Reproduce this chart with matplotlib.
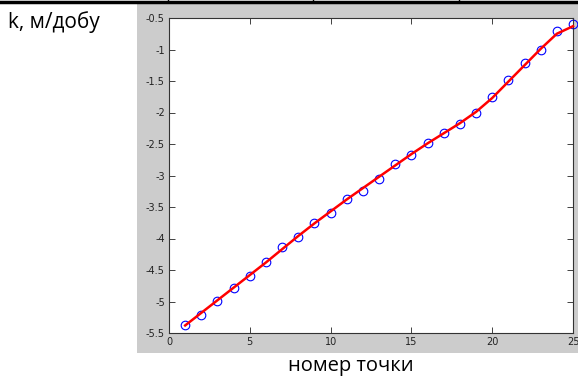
import matplotlib.pyplot as plt
from matplotlib.lines import Line2D

# point numbers and measured values
point_no = list(range(1, 26))
k_values = [-5.37, -5.21, -4.99, -4.78, -4.60, -4.38, -4.13, -3.97, -3.75, -3.60,
            -3.38, -3.24, -3.06, -2.81, -2.68, -2.49, -2.33, -2.18, -2.01, -1.76,
            -1.48, -1.22, -1.01, -0.70, -0.60]
# smoothed curve (red)
k_smooth = [-5.38, -5.18, -4.98, -4.78, -4.58, -4.38, -4.17, -3.96, -3.76, -3.57,
            -3.38, -3.20, -3.02, -2.84, -2.66, -2.49, -2.33, -2.17, -1.99, -1.77,
            -1.51, -1.25, -0.99, -0.75, -0.63]

xticks = [0, 5, 10, 15, 20, 25]
yticks = [-5.5, -5, -4.5, -4, -3.5, -3, -2.5, -2, -1.5, -1, -0.5]

W, H = 578, 377
fig = plt.figure(figsize=(W / 100, H / 100), dpi=100)

# gray matlab-style background
bg = fig.add_axes([137 / W, 1 - 353 / H, (578 - 137) / W, (353 - 4) / H])
bg.set_facecolor('#cccccc')
bg.set_xticks([])
bg.set_yticks([])
for s in bg.spines.values():
    s.set_visible(False)

# document table border at top
fig.lines.append(Line2D([0, 1], [1 - 2 / H, 1 - 2 / H], transform=fig.transFigure,
                        color='black', linewidth=2.5))
for cx in [168, 313, 459]:
    fig.lines.append(Line2D([cx / W, cx / W], [1, 1 - 2 / H], transform=fig.transFigure,
                            color='black', linewidth=1))

ax = fig.add_axes([169 / W, 1 - 333 / H, (573 - 169) / W, (333 - 18) / H])
ax.set_facecolor('white')

ax.plot(point_no, k_values, 'o', markerfacecolor='none', markeredgecolor='blue',
        markersize=6.2, markeredgewidth=0.8, clip_on=False, zorder=2)
ax.plot(point_no, k_smooth, color='red', linewidth=1.8, clip_on=False, zorder=3)

ax.set_xlim(0, 25)
ax.set_ylim(-5.5, -0.5)
ax.set_xticks(xticks)
ax.set_xticklabels([str(t) for t in xticks])
ax.set_yticks(yticks)
ax.set_yticklabels(['%g' % t for t in yticks])
ax.tick_params(direction='in', length=4, width=0.6, labelsize=7, colors='#222222',
               top=True, right=True, pad=3)
for s in ax.spines.values():
    s.set_linewidth(0.8)
    s.set_color('#333333')

fig.text(8 / W, 1 - 22 / H, 'k, м/добу', fontsize=15, family=['Open Sans', 'DejaVu Sans'],
         va='center', ha='left')
fig.text(351 / W, 1 - 366 / H, 'номер точки', fontsize=14.5, family=['Open Sans', 'DejaVu Sans'],
         va='center', ha='center')

fig.savefig('out.png', dpi=100)
